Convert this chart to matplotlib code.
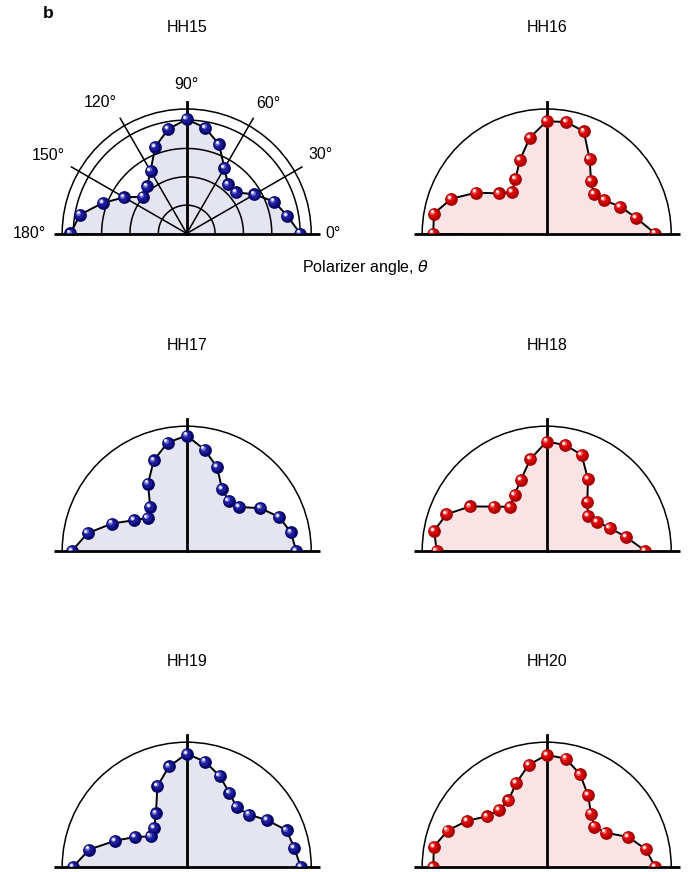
import numpy as np
import matplotlib
matplotlib.use("Agg")
import matplotlib.pyplot as plt
import matplotlib.transforms as mtransforms

plt.rcParams['font.family'] = ['Liberation Sans', 'DejaVu Sans']

# Polarizer angles (degrees) and normalised harmonic yield for each order
angles_deg = np.arange(0, 181, 10)

hh15 = [4.00, 3.60, 3.28, 2.76, 2.26, 2.26, 2.66, 3.34, 3.78, 4.03,
        3.74, 3.25, 2.55, 2.17, 2.02, 2.55, 3.15, 3.82, 4.10]
hh16 = [3.82, 3.20, 2.76, 2.35, 2.17, 2.43, 3.03, 3.83, 3.99, 3.96,
        3.43, 2.76, 2.21, 1.91, 2.20, 2.88, 3.58, 4.04, 4.00]
hh17 = [3.86, 3.73, 3.47, 3.00, 2.40, 2.30, 2.50, 3.13, 3.62, 4.06,
        3.87, 3.39, 2.73, 2.00, 1.80, 2.15, 2.80, 3.55, 4.04]
hh18 = [3.47, 2.83, 2.36, 2.04, 1.90, 2.23, 2.91, 3.60, 3.78, 3.85,
        3.29, 2.66, 2.27, 2.02, 2.42, 3.12, 3.76, 4.03, 3.88]
hh19 = [4.02, 3.85, 3.75, 3.28, 2.86, 2.74, 3.01, 3.40, 3.76, 3.98,
        3.59, 3.02, 2.17, 1.79, 1.66, 2.10, 2.68, 3.49, 4.00]
hh20 = [3.82, 3.55, 3.06, 2.40, 2.20, 2.44, 2.91, 3.46, 3.87, 3.94,
        3.65, 3.14, 2.70, 2.61, 2.76, 3.24, 3.72, 4.04, 4.00]

titles = ["HH15", "HH16", "HH17", "HH18", "HH19", "HH20"]
series = [hh15, hh16, hh17, hh18, hh19, hh20]

grid_rings = [1, 2, 3, 4]
spoke_deg = [30, 60, 120, 150]
angle_labels = ["0°", "30°", "60°", "90°", "120°", "150°", "180°"]
# where each angle label sits: (theta in degrees, radius)
label_spots = [(0, 5.15), (30.5, 5.46), (58.1, 5.42), (90, 5.24),
               (123.6, 5.53), (150.5, 5.61), (180, 5.53)]

R_MAX = 4.39      # outer arc
R_EXT = 4.69      # spokes reach beyond the arc
R_VERT = 4.65

palettes = {
    "odd": dict(fill="#e5e5f1", dark="#06066a", mid="#1c1c9a", light="#6b6bd0"),
    "even": dict(fill="#fae3e5", dark="#a80000", mid="#d80808", light="#f06060"),
}

W, H = 692, 872
fig = plt.figure(figsize=(W / 100, H / 100), dpi=100)

col_cx = [186.7, 546.7]
row_base = [233.5, 550.7, 866.7]
R_PX = 124.5
BASE_HALF = 133.0   # half length of the baseline, pixels


def add_half_polar(cx, base_y):
    # polar wedge axes are square with the half disc centred vertically
    side = 2 * R_PX
    left = cx - R_PX
    bottom = (H - base_y) - R_PX / 2
    ax = fig.add_axes([left / W, bottom / H, side / W, side / H], projection="polar")
    ax.set_thetamin(0)
    ax.set_thetamax(180)
    ax.set_rlim(0, R_MAX)
    ax.set_xticks([])
    ax.set_yticks([])
    ax.grid(False)
    for name in ("start", "end", "inner"):
        ax.spines[name].set_visible(False)
    ax.spines["polar"].set_linewidth(1.1)
    ax.patch.set_alpha(0)
    return ax


for i, (title, vals) in enumerate(zip(titles, series)):
    row, col = divmod(i, 2)
    cx, by = col_cx[col], row_base[row]
    ax = add_half_polar(cx, by)
    pal = palettes["odd" if col == 0 else "even"]
    th = np.deg2rad(angles_deg)
    r = np.asarray(vals)

    if i == 0:
        for ring in grid_rings:
            ax.plot(np.linspace(0, np.pi, 200), np.full(200, ring), color="black",
                    lw=1.1, zorder=3)
        for sd in spoke_deg:
            ax.plot([np.deg2rad(sd)] * 2, [0, R_EXT], color="black", lw=1.1,
                    zorder=3, clip_on=False)

    # shaded area under the response (closed along the baseline through the origin)
    ax.fill(np.r_[th, np.pi, 0], np.r_[r, 0, 0], color=pal["fill"], lw=0, zorder=1)

    # horizontal baseline through the origin, and the vertical at 90 degrees
    half = BASE_HALF / (2 * R_PX)
    ax.plot([0.5 - half, 0.5 + half], [0.25, 0.25], transform=ax.transAxes,
            color="black", lw=2.0, zorder=4, clip_on=False, solid_capstyle="butt")
    ax.plot([np.pi / 2] * 2, [0, R_VERT], color="black", lw=2.0, zorder=4, clip_on=False)

    # response curve
    ax.plot(th, r, color="black", lw=1.4, zorder=5)

    # shaded sphere markers
    ax.plot(th, r, ls="none", marker="o", ms=9.2, mfc=pal["dark"], mec="none", zorder=6)
    t1 = mtransforms.offset_copy(ax.transData, fig=fig, x=-0.8, y=0.8, units="dots")
    ax.plot(th, r, ls="none", marker="o", ms=6.5, mfc=pal["mid"], mec="none",
            zorder=7, transform=t1)
    t2 = mtransforms.offset_copy(ax.transData, fig=fig, x=-1.8, y=1.8, units="dots")
    ax.plot(th, r, ls="none", marker="o", ms=3.6, mfc=pal["light"], mec="none",
            zorder=8, transform=t2)
    t3 = mtransforms.offset_copy(ax.transData, fig=fig, x=-2.2, y=2.2, units="dots")
    ax.plot(th, r, ls="none", marker="o", ms=2.0, mfc="white", mec="none",
            zorder=9, transform=t3)

    fig.text(cx / W, 1 - (by - 205.5) / H, title, ha="center", va="center", fontsize=11.5)

    if i == 0:
        for lab, (deg, rr) in zip(angle_labels, label_spots):
            ax.text(np.deg2rad(deg), rr, lab, ha="center", va="center", fontsize=11.5,
                    clip_on=False)

fig.text(366 / W, 1 - 267 / H, r"Polarizer angle, $\theta$", ha="center", va="center",
         fontsize=11.5)
fig.text(43 / W, 1 - 14 / H, "b", ha="left", va="center", fontsize=12.5, fontweight="bold")

fig.savefig("out.png", dpi=100)
